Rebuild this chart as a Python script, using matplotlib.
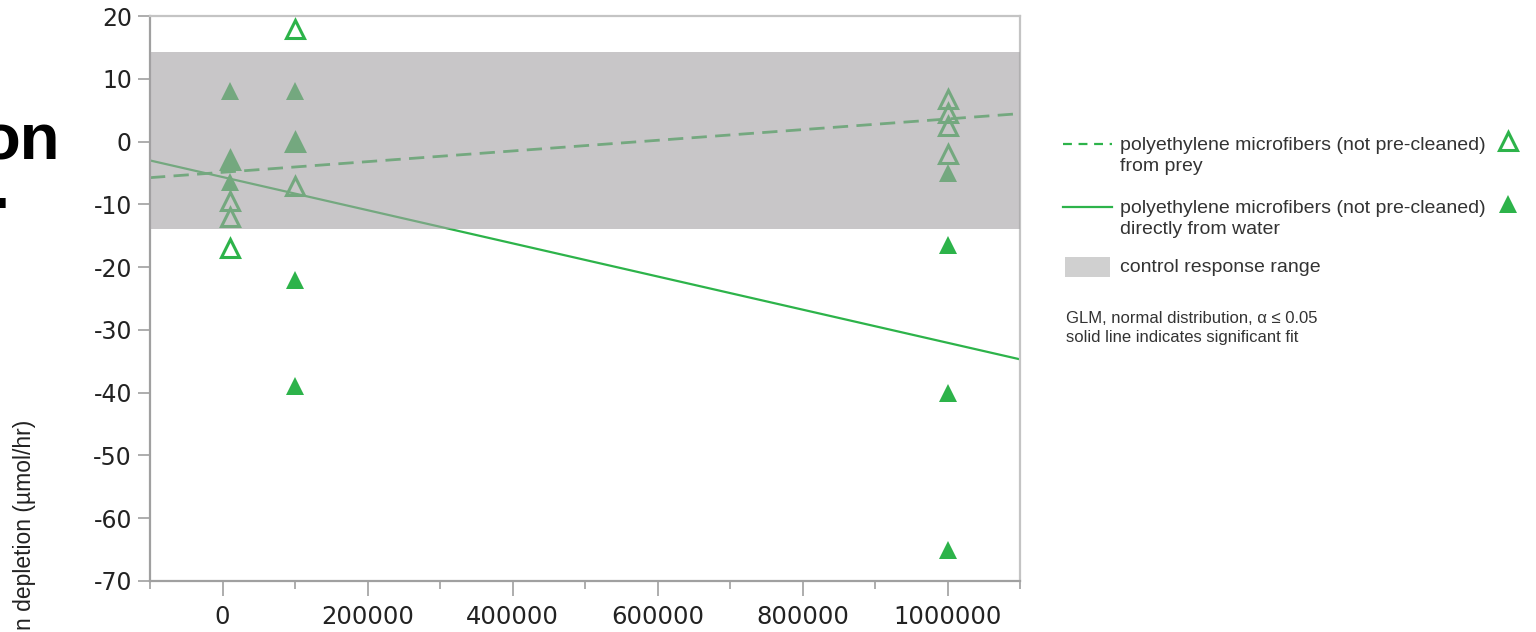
import numpy as np
import matplotlib
matplotlib.use("Agg")
import matplotlib.pyplot as plt

plt.rcParams["font.family"] = ["Liberation Sans", "DejaVu Sans"]
plt.rcParams["axes.unicode_minus"] = False

# --- data ---
# fibres "from prey" (open triangles)
prey_x = [10000, 10000, 10000, 10000,
          100000, 100000, 100000,
          1000000, 1000000, 1000000, 1000000]
prey_y = [-3, -9.5, -12, -17,
          18, 0, -7,
          6.8, 4.5, 2.5, -2]

# fibres "directly from water" (filled triangles)
water_x = [10000, 10000, 10000,
           100000, 100000, 100000, 100000,
           1000000, 1000000, 1000000, 1000000]
water_y = [8, -3, -6.5,
           8, 0, -22, -39,
           -5, -16.5, -40, -65]

# GLM fits (intercept, slope)
prey_fit = (-4.9, 8.5e-6)
water_fit = (-5.65, -2.64e-5)

# control response range
control_lo, control_hi = -14.0, 14.3

x_range = [-100000, 1100000]
y_range = [-70, 20]

green = "#2db34a"
W, H = 1536, 632

fig = plt.figure(figsize=(W / 100, H / 100), dpi=100)
ax = fig.add_axes([150 / W, 1 - 581 / H, 870 / W, 565 / H])

fx = np.array(x_range, dtype=float)
ax.plot(fx, prey_fit[0] + prey_fit[1] * fx, color=green, lw=2,
        dashes=(5.5, 3), zorder=2)
ax.plot(fx, water_fit[0] + water_fit[1] * fx, color=green, lw=1.6, zorder=2)

ax.plot(prey_x, prey_y, ls="none", marker="^", ms=13.5, mfc="none",
        mec=green, mew=2.2, zorder=3)
ax.plot(water_x, water_y, ls="none", marker="^", ms=13, mfc=green,
        mew=0, zorder=3)

# grey band sits on top of the points, semi transparent
ax.axhspan(control_lo, control_hi, color="#a4a1a4", alpha=0.6, lw=0, zorder=5)

ax.set_xlim(x_range)
ax.set_ylim(y_range)
ax.set_xticks(np.arange(0, 1000001, 200000))
ax.set_xticks(np.arange(-100000, 1100001, 100000), minor=True)
ax.set_yticks(np.arange(-70, 21, 10))
ax.set_xticklabels([str(v) for v in range(0, 1000001, 200000)])

for s in ["left", "bottom"]:
    ax.spines[s].set_color("#a0a0a0")
    ax.spines[s].set_linewidth(1.6)
for s in ["top", "right"]:
    ax.spines[s].set_color("#c4c4c4")
    ax.spines[s].set_linewidth(1.6)

ax.tick_params(axis="y", length=9, width=1.2, color="#a0a0a0", pad=4,
               labelsize=17, labelcolor="#222222")
ax.tick_params(axis="x", which="major", length=11, width=1.2, color="#a0a0a0",
               pad=6, labelsize=17.5, labelcolor="#222222")
ax.tick_params(axis="x", which="minor", length=6, width=1.2, color="#a0a0a0")
for lab in ax.get_xticklabels() + ax.get_yticklabels():
    lab.set_family("DejaVu Sans")

# --- legend and side text, in pixel space ---
ov = fig.add_axes([0, 0, 1, 1])
ov.set_xlim(0, W)
ov.set_ylim(H, 0)
ov.axis("off")
ov.patch.set_alpha(0)

ov.plot([1063, 1112], [144, 144], color=green, lw=1.6, dashes=(4, 3))
ov.plot([1063, 1112], [207, 207], color=green, lw=1.6)
ov.add_patch(plt.Rectangle((1065, 257), 45, 20, color="#d0d0d0", lw=0))
ov.plot([1508], [141], marker="^", ms=13.5, mfc="none", mec=green, mew=2.2)
ov.plot([1508], [204], marker="^", ms=13, mfc=green, mew=0)

leg_kw = dict(fontsize=14, color="#333333", ha="left", va="center",
              linespacing=1.3)
ov.text(1120, 156, "polyethylene microfibers (not pre-cleaned)\nfrom prey", **leg_kw)
ov.text(1120, 219, "polyethylene microfibers (not pre-cleaned)\ndirectly from water", **leg_kw)
ov.text(1120, 267, "control response range", **leg_kw)
ov.text(1066, 328, "GLM, normal distribution, \u03b1 \u2264 0.05\nsolid line indicates significant fit",
        fontsize=12, color="#333333", ha="left", va="center", linespacing=1.3)

ov.text(25, 420, "n depletion (\u00b5mol/hr)", rotation=90, fontsize=16.5,
        color="#222222", ha="center", va="top")
ov.text(60, 159, "on", fontsize=47, fontweight="bold", ha="right",
        va="baseline", color="black")
ov.text(10, 208, ".", fontsize=47, fontweight="bold", ha="right",
        va="baseline", color="black")

fig.savefig("out.png", dpi=100)
